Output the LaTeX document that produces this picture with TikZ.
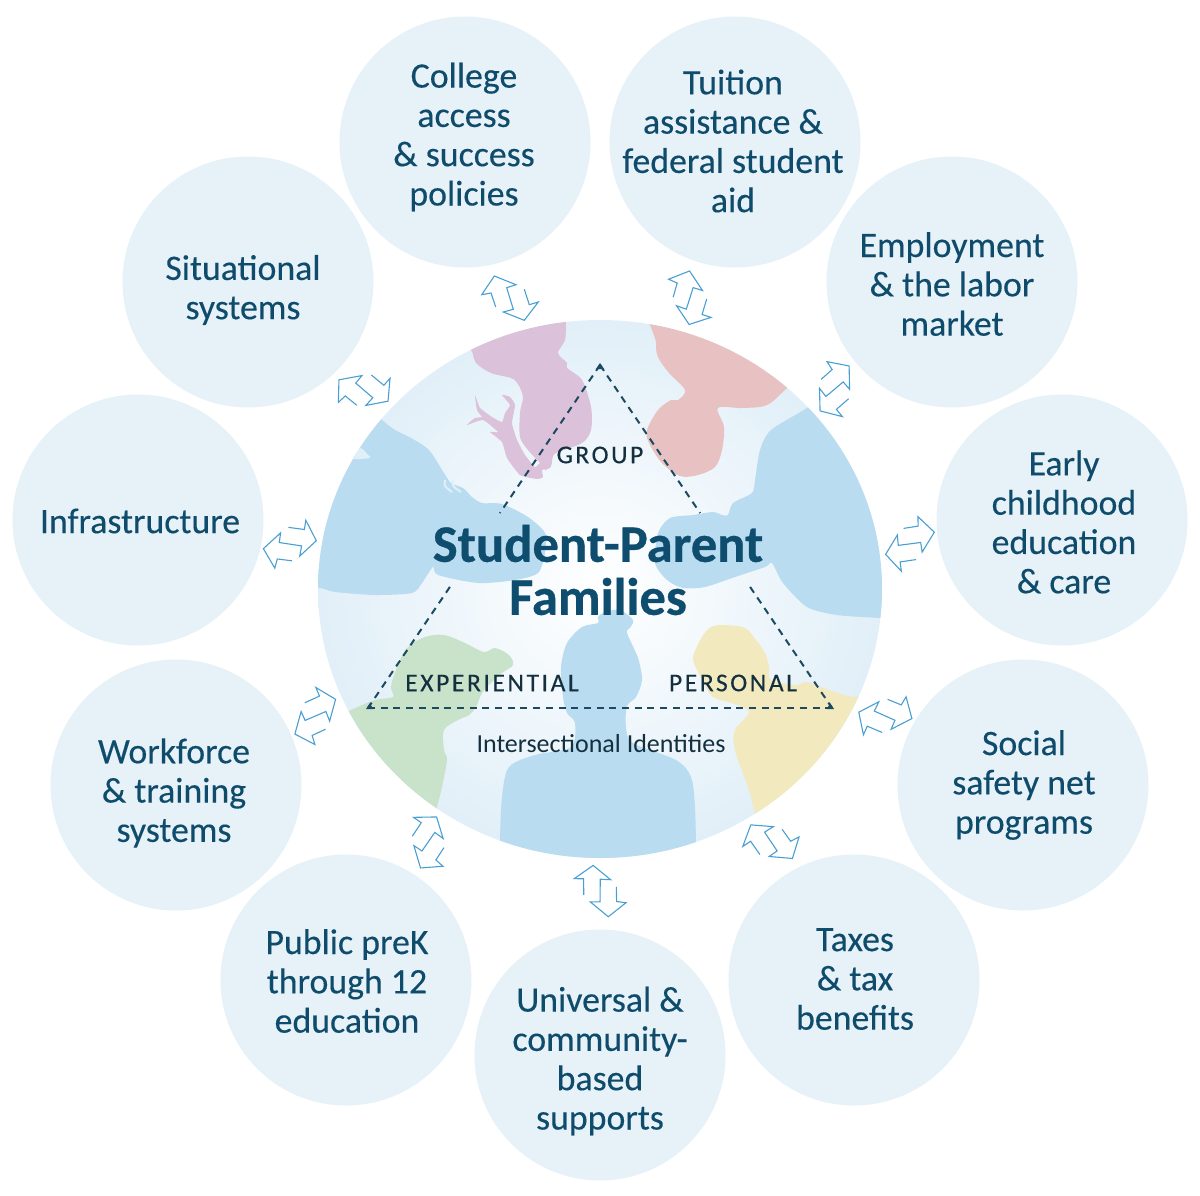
\documentclass[tikz,border=0pt]{standalone}
\usepackage{fontspec}
\setmainfont{Carlito}
\newfontfamily\bubblefont[FakeBold=0.25]{Carlito}
\newfontfamily\tagfont[FakeBold=0.3,LetterSpace=10]{Carlito}
\newfontfamily\titlefont[FakeBold=0.6]{Carlito Bold}
\usetikzlibrary{calc}
\definecolor{bubblefill}{HTML}{E6F1F8}
\definecolor{discedge}{HTML}{E1EFF8}
\definecolor{inktext}{HTML}{0F4C6C}
\definecolor{titleink}{HTML}{0E4D6E}
\definecolor{darkink}{HTML}{14303F}
\definecolor{dashink}{HTML}{1C4A60}
\definecolor{arrowink}{HTML}{4A9FD2}
\definecolor{figblue}{HTML}{B9DCF0}
\definecolor{figpink}{HTML}{DBC1D9}
\definecolor{figred}{HTML}{E8C2C3}
\definecolor{figgreen}{HTML}{C9E3CB}
\definecolor{figyellow}{HTML}{F3E9BF}
\tikzset{
  x=0.5pt,y=-0.5pt,
  bubble/.style={circle,fill=bubblefill,minimum size=125.5pt,inner sep=0pt},
  bubbletext/.style={align=center,text=inktext,inner sep=0pt,font=\bubblefont\fontsize{17.9}{19.65}\selectfont},
  tagtext/.style={text=darkink,inner sep=0pt,font=\tagfont\fontsize{12.8}{14}\selectfont},
  triline/.style={draw=dashink,line width=1pt,dash pattern=on 3.5pt off 2.85pt},
  tritip/.style={fill=dashink},
  dblarrow/.pic={
    \draw[arrowink,line width=0.55pt,line join=miter]
      (-14.3,9)--(-19,-5)--(-28.3,-3.3)--(-15.7,-22)--(6,-13.3)--(-3.3,-10.3)--(3.3,11.3)--(-6.7,14)--(14.3,22.3)--(28.3,4)--(19.3,6.7)--(14.3,-8.7);
  }
}
\begin{document}
\begin{tikzpicture}
\useasboundingbox (0,0) rectangle (1200,1195);
% bubbles
\node[bubble] (college) at (465,142) {};
\node[bubble] (tuition) at (735,142) {};
\node[bubble] (employ) at (952,282) {};
\node[bubble] (early) at (1062,520) {};
\node[bubble] (social) at (1023,785) {};
\node[bubble] (taxes) at (854,980) {};
\node[bubble] (universal) at (600,1055) {};
\node[bubble] (public) at (346,980) {};
\node[bubble] (workforce) at (176,785) {};
\node[bubble] (infra) at (138,520) {};
\node[bubble] (situ) at (248,282) {};
\node[bubbletext] (tcollege) at (464,137) {College\\access\\\& success\\policies};
\node[bubbletext] (ttuition) at (733,141) {Tuition\\assistance \&\\federal student\\aid};
\node[bubbletext] (temploy) at (952,284) {Employment\\\& the labor\\market};
\node[bubbletext] (tearly) at (1064,522) {Early\\childhood\\education\\\& care};
\node[bubbletext] (tsocial) at (1024,785) {Social\\safety net\\programs};
\node[bubbletext] (ttaxes) at (855,979) {Taxes\\\& tax\\benefits};
\node[bubbletext] (tuniversal) at (600,1061) {Universal \&\\community-\\based\\supports};
\node[bubbletext] (tpublic) at (347,981) {Public preK\\through 12\\education};
\node[bubbletext] (tworkforce) at (174,793) {Workforce\\\& training\\systems};
\node[bubbletext] (tinfra) at (140,521) {Infrastructure};
\node[bubbletext] (tsitu) at (243,290) {Situational\\systems};
% central disc and silhouettes
\begin{scope}
\clip (600,589) ellipse [x radius=282,y radius=269];
\shade[inner color=white,outer color=discedge] (600,589) ellipse [x radius=282,y radius=269];
\fill[figpink] plot[smooth cycle,tension=.5] coordinates {(566,290)(440,290)(455,335)(471,350)(476,363)(491,373)(511,378)(518,384)(523,397)(520,413)(520,437)(528,450)(540,463)(546,470)(552,460)(556,453)(582,443)(591,430)(591,407)(582,380)(567,368)(567,363)(558,353)(565,340)(566,322)};
\fill[figpink] plot[smooth cycle,tension=.3] coordinates {(540,463)(535,467)(525,455)(517,440)(512,423)(515,405)(510,397)(502,395)(510,405)(505,413)(502,422)(492,417)(480,408)(475,395)(477,410)(482,417)(475,418)(467,425)(483,420)(498,432)(490,432)(502,442)(507,458)(520,475)(537,479)(543,477)(542,470)(550,468)(552,460)};
\fill[figred] plot[smooth cycle,tension=.55] coordinates {(656,290)(810,290)(805,372)(787,388)(767,405)(742,408)(718,408)(724,427)(722,450)(715,467)(698,475)(680,476)(662,463)(649,443)(647,430)(658,410)(671,400)(678,400)(685,390)(669,373)(658,357)(656,343)};
\fill[figblue] plot[smooth cycle,tension=.45] coordinates {(355,395)(382,420)(395,430)(411,438)(429,450)(444,473)(451,483)(463,488)(472,497)(482,503)(502,504)(528,517)(545,533)(545,553)(538,573)(515,580)(478,583)(438,575)(433,567)(422,583)(412,593)(375,595)(335,592)(319,588)(290,590)(290,500)};
\fill[discedge] plot[smooth cycle,tension=.5] coordinates {(360,448)(368,455)(370,458)(355,459)(345,455)};
\draw[discedge,line width=1pt] (445,480) .. controls (444,486) .. (452,492) (453,480) .. controls (452,486) .. (461,492);
\fill[figblue] plot[smooth cycle,tension=.45] coordinates {(807,408)(771,430)(760,450)(755,480)(752,493)(733,503)(728,515)(722,515)(713,512)(693,515)(670,518)(658,533)(655,563)(667,580)(683,588)(705,587)(735,577)(765,567)(772,563)(783,583)(807,607)(837,615)(880,618)(915,620)(915,400)(830,390)};
\fill[figgreen] plot[smooth cycle,tension=.55] coordinates {(315,728)(351,710)(375,700)(393,697)(391,687)(396,670)(407,648)(425,637)(444,635)(465,643)(484,652)(495,648)(509,655)(513,665)(502,673)(491,683)(482,693)(476,707)(469,715)(458,720)(444,730)(444,750)(447,760)(442,787)(437,807)(428,845)(330,810)};
\fill[figyellow] plot[smooth cycle,tension=.55] coordinates {(875,690)(855,697)(829,690)(807,682)(796,685)(771,680)(769,667)(765,653)(756,640)(745,628)(724,625)(711,627)(702,637)(693,657)(697,670)(702,680)(713,697)(731,703)(749,712)(735,730)(735,750)(749,790)(755,812)(770,845)(890,730)};
\fill[figblue] plot[smooth cycle,tension=.5] coordinates {(598,617)(605,612)(620,610)(633,620)(630,628)(627,633)(638,658)(642,680)(636,697)(627,706)(626,727)(633,743)(676,760)(691,777)(695,807)(696,850)(696,880)(500,880)(500,840)(502,797)(509,767)(535,755)(571,747)(575,723)(567,713)(563,697)(561,667)(567,643)(582,627)(598,623)};
\end{scope}
% dashed triangle
\coordinate (apex) at (600,365);
\coordinate (cornerl) at (368,708);
\coordinate (cornerr) at (832,708);
\draw[triline] (apex) -- ($(apex)!.4315!(cornerl)$);
\draw[triline] ($(apex)!.647!(cornerl)$) -- (cornerl);
\draw[triline] (apex) -- ($(apex)!.4315!(cornerr)$);
\draw[triline] ($(apex)!.647!(cornerr)$) -- (cornerr);
\draw[triline] (cornerl) -- (cornerr);
\fill[tritip] (600,363) -- (604,369) -- (596,369) -- cycle;
\fill[tritip] (366,709) -- (373,709) -- (370,703) -- cycle;
\fill[tritip] (834,709) -- (827,709) -- (830,703) -- cycle;
% labels
\node[text=titleink,align=center,inner sep=0pt,font=\titlefont\fontsize{26.3}{26.5}\selectfont] (title) at (598,570) {Student-Parent\\Families};
\node[tagtext] (group) at (600,455) {GROUP};
\node[tagtext] (experiential) at (492,683) {EXPERIENTIAL};
\node[tagtext] (personal) at (733,683) {PERSONAL};
\node[text=darkink,inner sep=0pt,font=\fontsize{13}{15}\selectfont] (identities) at (601,744) {Intersectional Identities};
% double arrows
\pic[rotate=0] at (510,298) {dblarrow};
\pic[rotate=-34.6] at (690,298) {dblarrow};
\pic[rotate=-67] at (835,389) {dblarrow};
\pic[rotate=-99.6] at (910,544) {dblarrow};
\pic[rotate=-131] at (885,716) {dblarrow};
\pic[rotate=-163] at (771,842) {dblarrow};
\pic[rotate=-197.6] at (600,891) {dblarrow};
\pic[rotate=-231.6] at (428,842) {dblarrow};
\pic[rotate=-263.6] at (315,716) {dblarrow};
\pic[rotate=-295.6] at (290,544) {dblarrow};
\pic[rotate=-327.6] at (364,390) {dblarrow};
\end{tikzpicture}
\end{document}
